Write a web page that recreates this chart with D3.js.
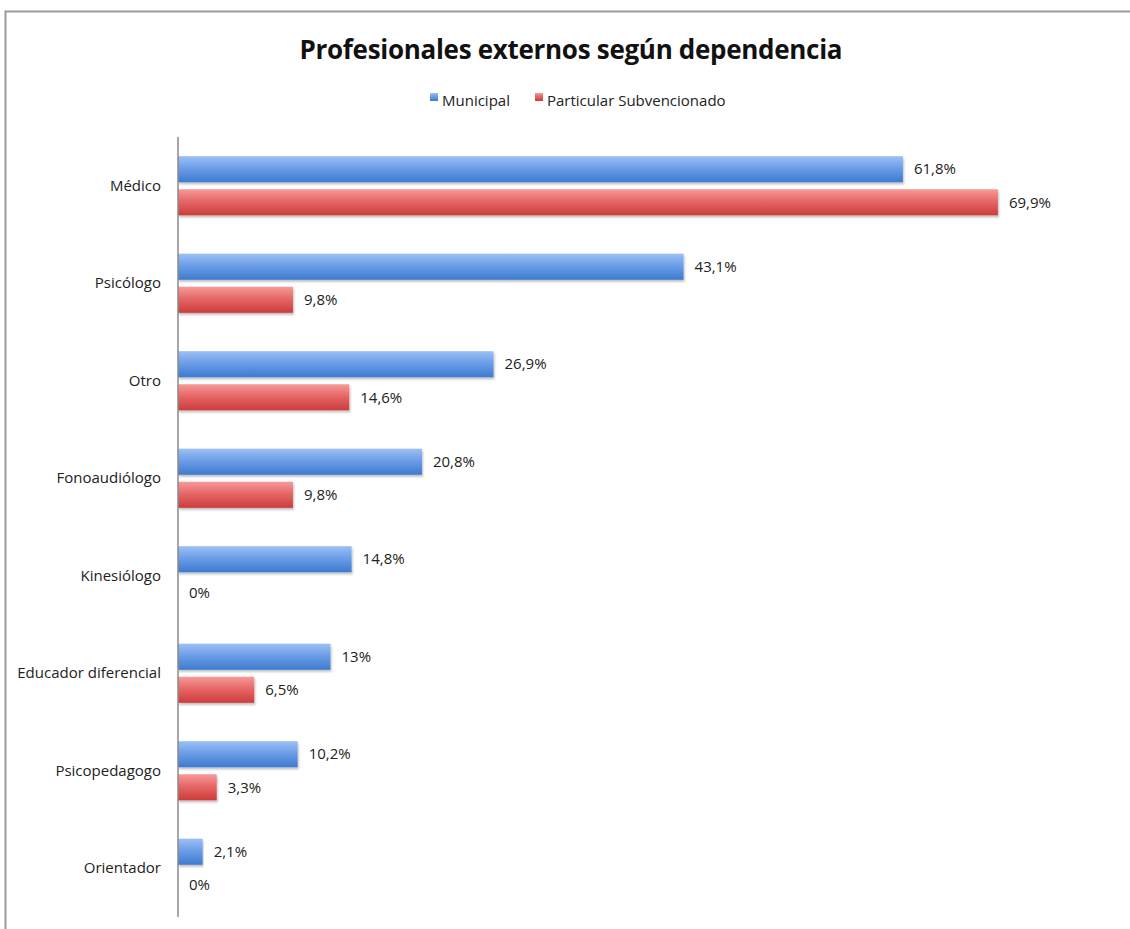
<!DOCTYPE html>
<html>
<head>
<meta charset="utf-8">
<script src="https://cdn.jsdelivr.net/npm/d3@7"></script>
<style>
  body { margin: 0; background: #fff; }
  svg { display: block; font-family: "Open Sans", "Noto Sans", sans-serif; }
</style>
</head>
<body>
<svg id="chart" width="1130" height="929"></svg>
<script>
// data
var categories = ["Médico", "Psicólogo", "Otro", "Fonoaudiólogo", "Kinesiólogo",
                  "Educador diferencial", "Psicopedagogo", "Orientador"];
var seriesNames = ["Municipal", "Particular Subvencionado"];
var municipal = [61.8, 43.1, 26.9, 20.8, 14.8, 13, 10.2, 2.1];
var particular = [69.9, 9.8, 14.6, 9.8, 0, 6.5, 3.3, 0];
var valueLabels = [
    ["61,8%", "43,1%", "26,9%", "20,8%", "14,8%", "13%", "10,2%", "2,1%"],
    ["69,9%", "9,8%", "14,6%", "9,8%", "0%", "6,5%", "3,3%", "0%"]
];

var svg = d3.select("#chart");
var margin = {top: 137, left: 178, bottom: 12, right: 60};

// frame
svg.append("path")
    .attr("d", "M5.5,929 V11.5 H1130")
    .attr("fill", "none")
    .attr("stroke", "#9a9a9a")
    .attr("stroke-width", 2);

// gradients
var defs = svg.append("defs");
var grads = [
    {id: "gBlue", stops: ["#9cc0f5", "#6c9ee8", "#3d7acf"]},
    {id: "gRed", stops: ["#f79a9a", "#e66767", "#cc3c3c"]}
];
grads.forEach(function(g){
    var lg = defs.append("linearGradient").attr("id", g.id)
        .attr("x1", 0).attr("y1", 0).attr("x2", 0).attr("y2", 1);
    lg.append("stop").attr("offset", "0%").attr("stop-color", g.stops[0]);
    lg.append("stop").attr("offset", "45%").attr("stop-color", g.stops[1]);
    lg.append("stop").attr("offset", "100%").attr("stop-color", g.stops[2]);
});
defs.append("filter").attr("id", "shadow")
    .attr("x", "-5%").attr("y", "-20%").attr("width", "110%").attr("height", "160%")
    .append("feDropShadow")
    .attr("dx", 1).attr("dy", 2).attr("stdDeviation", 1.2)
    .attr("flood-color", "#000").attr("flood-opacity", 0.25);

// title
svg.append("text")
    .attr("x", 571).attr("y", 59)
    .attr("text-anchor", "middle")
    .attr("font-size", "26px")
    .attr("font-weight", "bold")
    .attr("fill", "#111")
    .attr("textLength", 543)
    .text("Profesionales externos según dependencia");

// legend
var legend = svg.append("g").attr("font-size", "15px");
var legendX = [430, 535];
seriesNames.forEach(function(n, i){
    legend.append("rect")
        .attr("x", legendX[i]).attr("y", 93)
        .attr("width", 8).attr("height", 8)
        .attr("fill", i === 0 ? "url(#gBlue)" : "url(#gRed)");
    legend.append("text")
        .attr("x", legendX[i] + 12).attr("y", 106)
        .attr("fill", "#222")
        .text(n);
});

// scales
var x = d3.scaleLinear().domain([0, 1]).range([margin.left, margin.left + 11.73]);
var y = d3.scaleBand().domain(categories)
    .range([margin.top, 929 - margin.bottom]);
var inner = d3.scaleBand().domain([0, 1])
    .range([0, y.bandwidth()])
    .paddingInner(0.21).paddingOuter(0.58);

var series = [municipal, particular];

series.forEach(function(vals, s){
    var g = svg.append("g");
    g.selectAll("rect")
        .data(vals)
        .enter()
        .append("rect")
        .attr("x", x(0))
        .attr("y", function(d, i){ return y(categories[i]) + inner(s); })
        .attr("width", function(d){ return x(d) - x(0); })
        .attr("height", inner.bandwidth())
        .attr("fill", s === 0 ? "url(#gBlue)" : "url(#gRed)")
        .attr("filter", "url(#shadow)");

    g.selectAll("text")
        .data(vals)
        .enter()
        .append("text")
        .attr("x", function(d){ return x(d) + 11; })
        .attr("y", function(d, i){ return y(categories[i]) + inner(s) + inner.bandwidth() / 2; })
        .attr("dy", "0.35em")
        .attr("font-size", "15px")
        .attr("fill", "#222")
        .text(function(d, i){ return valueLabels[s][i]; });
});

// category axis
var axis = d3.axisLeft(y).tickSize(0).tickPadding(17);
var ax = svg.append("g")
    .attr("transform", "translate(" + margin.left + ",0)")
    .call(axis);
ax.select(".domain").attr("stroke", "#8a8a8a").attr("stroke-width", 1.5)
    .attr("d", "M0," + margin.top + "V" + (929 - margin.bottom));
ax.selectAll("text")
    .attr("font-size", "15px")
    .attr("font-family", "'Open Sans', 'Noto Sans', sans-serif")
    .attr("fill", "#222");
</script>
</body>
</html>
